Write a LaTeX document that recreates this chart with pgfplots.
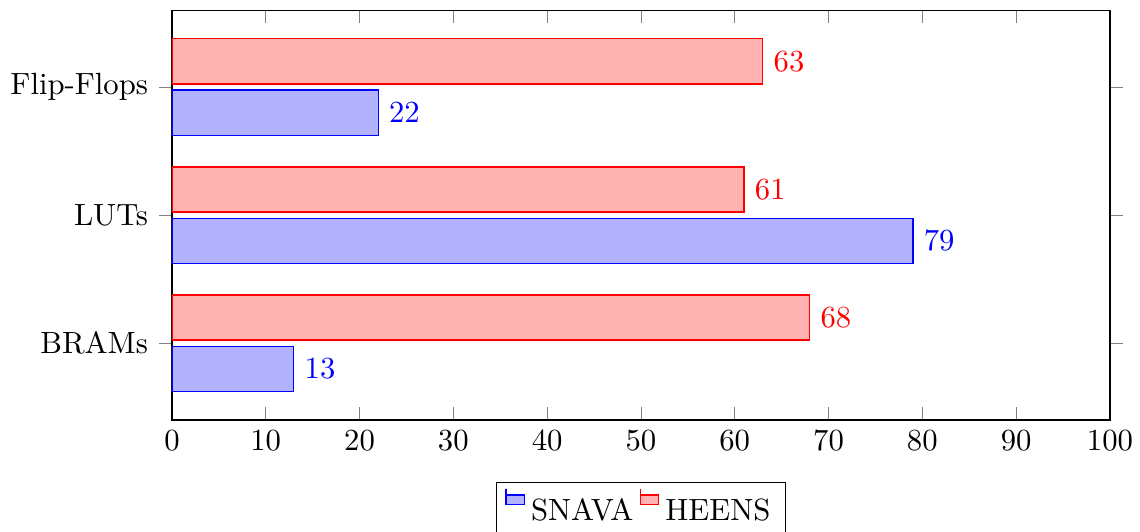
\documentclass[border=0pt]{standalone}
\usepackage{pgfplots}
\pgfplotsset{compat=1.18}
\begin{document}
\begin{tikzpicture}
\begin{axis}[
  xbar,
  scale only axis,
  width=305.5pt, height=133.5pt,
  bar width=14.7pt,
  xmin=0, xmax=100,
  xtick={0,10,...,100},
  ytick={0,1,2},
  yticklabels={BRAMs,LUTs,Flip-Flops},
  enlarge y limits=0.3,
  nodes near coords,
  legend image code/.code={\draw[#1,/tikz/.cd,bar width=3pt,yshift=-0.2em,bar shift=0pt] plot coordinates {(0cm,0.8em) (6pt,0.6em)};},
  legend style={at={(0.5,-0.15)}, anchor=north, legend columns=-1},
]
\addplot[draw=blue, fill=blue!30, every node near coord/.append style={text=blue}] coordinates {(13,0) (79,1) (22,2)};
\addplot[draw=red, fill=red!30, every node near coord/.append style={text=red}] coordinates {(68,0) (61,1) (63,2)};
\legend{SNAVA,HEENS}
\end{axis}
\pgfresetboundingbox
\path[use as bounding box] ([xshift=-56pt,yshift=-36.2pt]current axis.south west) rectangle ([xshift=9.8pt,yshift=3.3pt]current axis.north east);
\end{tikzpicture}
\end{document}
